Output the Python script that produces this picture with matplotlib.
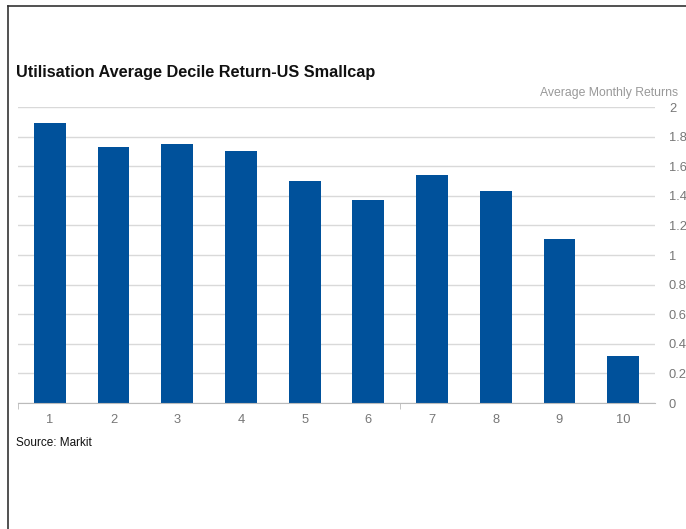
import matplotlib
matplotlib.use("Agg")
import matplotlib.pyplot as plt
from matplotlib.lines import Line2D

plt.rcParams['font.family'] = ['Liberation Sans', 'DejaVu Sans']

deciles = ['1', '2', '3', '4', '5', '6', '7', '8', '9', '10']
returns = [1.89, 1.73, 1.75, 1.70, 1.50, 1.37, 1.54, 1.43, 1.11, 0.32]
yticks = [0, 0.2, 0.4, 0.6, 0.8, 1, 1.2, 1.4, 1.6, 1.8, 2]
ytick_labels = ['0', '0.2', '0.4', '0.6', '0.8', '1', '1.2', '1.4', '1.6', '1.8', '2']

W, H = 686, 529
fig = plt.figure(figsize=(W / 100, H / 100), dpi=100)
ax = fig.add_axes([18 / W, 1 - 403 / H, (655 - 18) / W, (403 - 107) / H])

x = list(range(1, len(deciles) + 1))
ax.bar(x, returns, width=0.5, color='#00519b', zorder=3)

ax.set_xlim(0.5, len(deciles) + 0.5)
ax.set_ylim(0, 2)
ax.set_xticks(x)
ax.set_xticklabels(deciles)
ax.set_yticks(yticks)
ax.set_yticklabels(ytick_labels)
ax.yaxis.tick_right()
ax.tick_params(axis='y', length=0, pad=10, labelsize=9.3, labelcolor='#777777')
ax.tick_params(axis='x', length=0, pad=8, labelsize=9.3, labelcolor='#777777')
ax.set_xticks([0.5, 6.5], minor=True)
ax.tick_params(axis='x', which='minor', length=4, color='#bbbbbb', direction='out')
ax.grid(axis='y', color='#d9d9d9', linewidth=1, zorder=0)
for s in ['top', 'right', 'left']:
    ax.spines[s].set_visible(False)
ax.spines['bottom'].set_color('#bbbbbb')
ax.spines['bottom'].set_zorder(4)

fig.text(16 / W, 1 - 72 / H, 'Utilisation Average Decile Return-US Smallcap',
         fontsize=11.7, fontweight='bold', color='#111111', va='center', ha='left')
fig.text(678 / W, 1 - 93 / H, 'Average Monthly Returns', fontsize=8.8,
         color='#999999', va='center', ha='right')
fig.text(16 / W, 1 - 443 / H, 'Source: Markit', fontsize=8.5, color='#111111',
         va='center', ha='left')

# frame lines (left and top)
fig.add_artist(Line2D([7.5 / W, 7.5 / W], [0, 1 - 5.5 / H], color='#333333', linewidth=1.2))
fig.add_artist(Line2D([7.5 / W, 1], [1 - 5.5 / H, 1 - 5.5 / H], color='#333333', linewidth=1.2))

fig.savefig('out.png', dpi=100)
